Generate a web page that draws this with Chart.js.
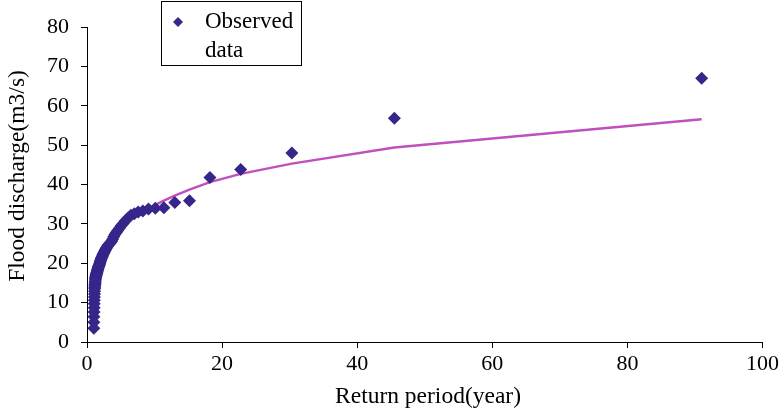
<!DOCTYPE html>
<html>
<head>
<meta charset="utf-8">
<script src="https://cdn.jsdelivr.net/npm/chart.js@4.4.1/dist/chart.umd.min.js"></script>
<style>
  html, body { margin: 0; padding: 0; background: #fff; }
  #wrap { width: 782px; height: 413px; }
</style>
</head>
<body>
<div id="wrap"><canvas id="chart" width="782" height="413"></canvas></div>
<script>
// Return periods (years) of the ranked observations
const returnPeriod = [
  91, 45.5, 30.33, 22.75, 18.2, 15.17, 13, 11.38, 10.11, 9.1,
  8.27, 7.58, 7, 6.5, 6.07, 5.69, 5.35, 5.06, 4.79, 4.55,
  4.33, 4.14, 3.96, 3.79, 3.64, 3.5, 3.37, 3.25, 3.14, 3.03,
  2.94, 2.84, 2.76, 2.68, 2.6, 2.53, 2.46, 2.39, 2.33, 2.28,
  2.22, 2.17, 2.12, 2.07, 2.02, 1.98, 1.94, 1.9, 1.86, 1.82,
  1.78, 1.75, 1.72, 1.69, 1.65, 1.63, 1.6, 1.57, 1.54, 1.52,
  1.49, 1.47, 1.44, 1.42, 1.4, 1.38, 1.36, 1.34, 1.32, 1.3,
  1.28, 1.26, 1.25, 1.23, 1.21, 1.2, 1.18, 1.17, 1.15, 1.14,
  1.12, 1.11, 1.1, 1.08, 1.07, 1.06, 1.05, 1.03, 1.02, 1.01
];

// Observed flood discharge (m3/s)
const observed = [
  67.0, 56.8, 48.0, 43.8, 41.8, 35.9, 35.4, 34.1, 34.0, 33.8,
  33.3, 33.0, 32.6, 32.2, 31.5, 30.8, 30.1, 29.5, 28.9, 28.3,
  27.8, 27.3, 26.7, 26.1, 25.6, 25.3, 25.0, 24.8, 24.6, 24.3,
  24.0, 23.8, 23.5, 23.3, 23.0, 22.8, 22.5, 22.3, 22.1, 21.8,
  21.6, 21.4, 21.2, 21.0, 20.7, 20.5, 20.3, 20.0, 19.8, 19.5,
  19.5, 19.3, 19.2, 19.0, 18.8, 18.7, 18.5, 18.3, 18.2, 18.0,
  17.8, 17.7, 17.5, 17.4, 17.2, 17.1, 17.0, 16.8, 16.7, 16.5,
  16.4, 16.1, 15.8, 15.5, 15.2, 14.9, 14.6, 14.3, 13.9, 13.5,
  12.9, 12.2, 11.4, 10.6, 9.7, 8.7, 7.6, 6.4, 5.0, 3.5
];

// Fitted curve
const fitPeriod = [91, 45.5, 30.33, 22.75, 18.2, 15.17, 13, 11.38, 10.11, 9.1, 8.27, 7.58];
const fitted = [56.6, 49.4, 45.3, 42.7, 40.6, 38.7, 37.2, 35.9, 34.8, 33.9, 33.1, 32.4];

const xTicks = [0, 20, 40, 60, 80, 100];
const yTicks = [0, 10, 20, 30, 40, 50, 60, 70, 80];

const serif = "'Liberation Serif', 'Times New Roman', serif";
const markerColor = '#36268a';
const lineColor = '#c050bf';

// axis titles and the boxed legend
const extras = {
    id: 'extras',
    afterDraw(chart) {
        const ctx = chart.ctx;
        ctx.save();
        ctx.fillStyle = '#000';
        ctx.font = '23.5px ' + serif;
        ctx.textAlign = 'center';
        ctx.textBaseline = 'middle';
        ctx.fillText('Return period(year)', 428, 397);

        ctx.save();
        ctx.translate(18, 176);
        ctx.rotate(-Math.PI / 2);
        ctx.fillText('Flood discharge(m3/s)', 0, 0);
        ctx.restore();

        // legend box
        ctx.fillStyle = '#fff';
        ctx.fillRect(161.5, 1.5, 140, 64);
        ctx.strokeStyle = '#000';
        ctx.lineWidth = 1;
        ctx.strokeRect(161.5, 1.5, 140, 64);
        ctx.fillStyle = markerColor;
        ctx.beginPath();
        ctx.moveTo(178, 17);
        ctx.lineTo(183, 22);
        ctx.lineTo(178, 27);
        ctx.lineTo(173, 22);
        ctx.closePath();
        ctx.fill();
        ctx.fillStyle = '#000';
        ctx.textAlign = 'left';
        ctx.font = '23px ' + serif;
        ctx.fillText('Observed', 205, 22);
        ctx.fillText('data', 205, 51);
        ctx.restore();
    }
};

const ctx = document.getElementById('chart').getContext('2d');
new Chart(ctx, {
    type: 'scatter',
    data: {
        datasets: [
            {
                label: 'Observed data',
                data: returnPeriod.map((t, i) => ({ x: t, y: observed[i] })),
                pointStyle: 'rectRot',
                pointRadius: 6.5,
                backgroundColor: markerColor,
                borderColor: markerColor,
                borderWidth: 0,
                order: 0
            },
            {
                type: 'line',
                label: 'Fitted',
                data: fitPeriod.map((t, i) => ({ x: t, y: fitted[i] })),
                borderColor: lineColor,
                borderWidth: 2.5,
                pointRadius: 0,
                fill: false,
                tension: 0,
                order: 1
            }
        ]
    },
    options: {
        responsive: false,
        animation: false,
        layout: { padding: { left: 0, top: 27, right: 19, bottom: 0 } },
        plugins: {
            legend: { display: false },
            tooltip: { enabled: false }
        },
        scales: {
            x: {
                type: 'linear',
                min: 0,
                max: 100,
                afterBuildTicks: s => { s.ticks = xTicks.map(v => ({ value: v })); },
                afterFit: s => { s.height = 71; },
                grid: { display: true, drawOnChartArea: false, drawTicks: true, tickLength: 6, color: '#000' },
                border: { display: true, color: '#000', width: 1 },
                ticks: { color: '#000', padding: 3, font: { family: serif, size: 22 } }
            },
            y: {
                type: 'linear',
                min: 0,
                max: 80,
                afterBuildTicks: s => { s.ticks = yTicks.map(v => ({ value: v })); },
                afterFit: s => { s.width = 87; },
                grid: { display: true, drawOnChartArea: false, drawTicks: true, tickLength: 6, color: '#000' },
                border: { display: true, color: '#000', width: 1 },
                ticks: { color: '#000', padding: 12, font: { family: serif, size: 22 } }
            }
        }
    },
    plugins: [extras]
});
</script>
</body>
</html>
